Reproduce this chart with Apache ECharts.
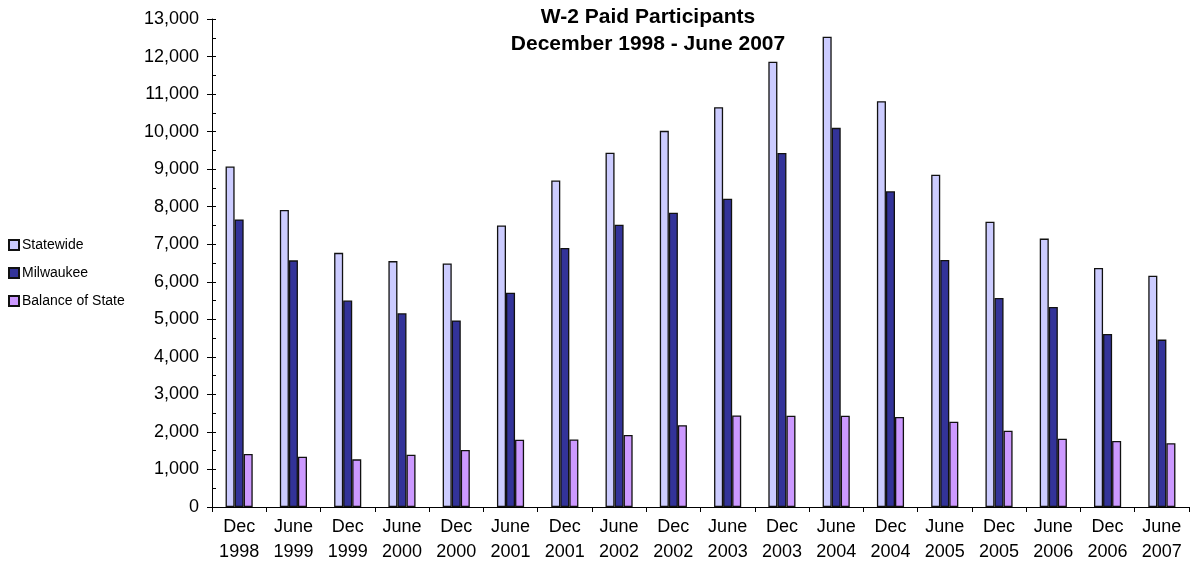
<!DOCTYPE html>
<html>
<head>
<meta charset="utf-8">
<script src="https://cdn.jsdelivr.net/npm/echarts@6/dist/echarts.min.js"></script>
<style>
html,body{margin:0;padding:0;background:#fff;}
#chart{width:1191px;height:565px;}
</style>
</head>
<body>
<div id="chart"></div>
<script>
const categories = ["Dec\n1998","June\n1999","Dec\n1999","June\n2000","Dec\n2000","June\n2001","Dec\n2001","June\n2002","Dec\n2002","June\n2003","Dec\n2003","June\n2004","Dec\n2004","June\n2005","Dec\n2005","June\n2006","Dec\n2006","June\n2007"];
const statewide = [9070,7910,6770,6550,6490,7500,8700,9440,10020,10650,11860,12530,10810,8850,7600,7150,6370,6160];
const milwaukee = [7660,6570,5500,5160,4970,5710,6900,7520,7840,8210,9430,10100,8410,6580,5570,5330,4610,4460];
const balance   = [1410,1340,1270,1390,1520,1790,1800,1920,2180,2440,2430,2430,2400,2270,2030,1820,1760,1700];
const seriesNames = ["Statewide","Milwaukee","Balance of State"];
const titleText = "W-2 Paid Participants\nDecember 1998 - June 2007";

const chart = echarts.init(document.getElementById('chart'), null, {renderer:'canvas'});
const font = "Liberation Sans, Arial, sans-serif";
const colors = ["#CCCCFF","#333399","#CC99FF"];
const datas = [statewide, milwaukee, balance];
const fmt = v=>v.toString().replace(/\B(?=(\d{3})+(?!\d))/g, ",");
chart.setOption({
  animation:false,
  backgroundColor:"#fff",
  textStyle:{fontFamily:font},
  title:{
    text:titleText, left:648, top:4, textAlign:'center', padding:0,
    textStyle:{fontFamily:font,fontSize:21,fontWeight:'bold',color:'#000',lineHeight:27}
  },
  legend:{
    orient:'vertical', left:8, top:238, itemGap:14, itemWidth:10, itemHeight:10,
    icon:'rect', padding:0,
    textStyle:{fontFamily:font,fontSize:14,color:'#000',padding:[0,0,0,-2]},
    data:seriesNames
  },
  grid:{left:212,right:2,top:19,bottom:58},
  xAxis:{
    type:'category', data:categories,
    axisLine:{lineStyle:{color:'#000',width:1}},
    axisTick:{show:true,length:5,lineStyle:{color:'#000'}},
    axisLabel:{color:'#000',fontSize:18,fontFamily:font,lineHeight:25,margin:8,interval:0}
  },
  yAxis:[{
    type:'value', min:0, max:13000, interval:1000, position:'left',
    axisLine:{show:true,lineStyle:{color:'#000',width:1}},
    axisTick:{show:true,inside:true,length:4,lineStyle:{color:'#000'}},
    minorTick:{show:true,splitNumber:2,length:4,lineStyle:{color:'#000'}},
    splitLine:{show:false},
    axisLabel:{color:'#000',fontSize:18,fontFamily:font,margin:13,formatter:fmt}
  },{
    type:'value', min:0, max:13000, interval:1000, position:'left', offset:0,
    axisLine:{show:false},
    axisTick:{show:true,inside:false,length:5,lineStyle:{color:'#000'}},
    splitLine:{show:false},
    axisLabel:{show:false}
  }],
  series: seriesNames.map((n,i)=>({
    name:n, type:'bar', data:datas[i], yAxisIndex:0,
    barGap:'0%', barCategoryGap:'50%',
    itemStyle:{color:colors[i],borderColor:'#111',borderWidth:1.3}
  }))
});
</script>
</body>
</html>
